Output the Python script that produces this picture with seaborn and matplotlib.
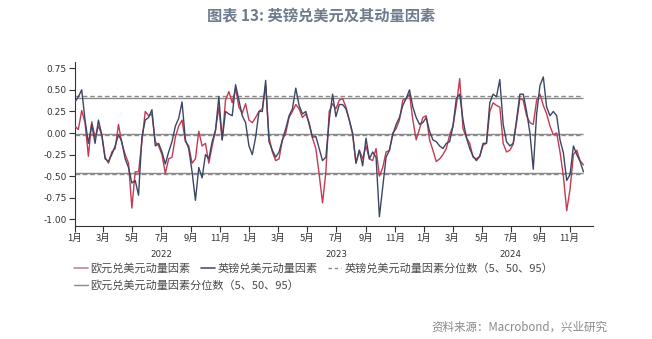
import matplotlib
matplotlib.use("Agg")
import matplotlib.pyplot as plt
import matplotlib.dates as mdates
from matplotlib.lines import Line2D
import numpy as np
import pandas as pd
import seaborn as sns

# ---- data -------------------------------------------------------------
# weekly observations, first week of 2022 through end of November 2024
start_date = "2022-01-01"
n_weeks = 153

# EUR/USD momentum factor
eur_momentum = [
    0.08, 0.04, 0.26, 0.12, -0.27, 0.13, -0.05, 0.08, -0.02, -0.28,
    -0.35, -0.22, -0.18, 0.10, -0.12, -0.25, -0.35, -0.87, -0.45, -0.45,
    -0.10, 0.25, 0.20, 0.22, -0.10, -0.15, -0.25, -0.47, -0.30, -0.28,
    -0.05, 0.08, 0.15, -0.10, -0.15, -0.35, -0.30, 0.02, -0.15, -0.12,
    -0.35, -0.15, 0.03, 0.30, -0.08, 0.38, 0.48, 0.35, 0.52, 0.30,
    0.23, 0.34, 0.15, 0.12, 0.18, 0.25, 0.28, 0.55, -0.05, -0.22,
    -0.32, -0.30, -0.08, 0.00, 0.18, 0.25, 0.33, 0.28, 0.18, 0.22,
    0.12, -0.06, -0.18, -0.48, -0.81, -0.45, 0.25, 0.34, 0.28, 0.38,
    0.40, 0.30, 0.15, -0.02, -0.35, -0.20, -0.30, -0.15, -0.30, -0.32,
    -0.18, -0.50, -0.40, -0.22, -0.20, 0.00, 0.05, 0.15, 0.38, 0.40,
    0.45, 0.15, -0.08, 0.05, 0.18, 0.20, -0.08, -0.20, -0.33, -0.30,
    -0.25, -0.18, -0.02, 0.08, 0.32, 0.63, 0.05, -0.05, -0.12, -0.28,
    -0.30, -0.27, -0.14, -0.12, 0.25, 0.35, 0.32, 0.30, -0.12, -0.22,
    -0.20, -0.13, 0.12, 0.40, 0.38, 0.20, 0.12, 0.10, 0.38, 0.45,
    0.32, 0.22, 0.08, -0.02, 0.00, -0.22, -0.50, -0.90, -0.65, -0.25,
    -0.20, -0.32, -0.37,
]

# GBP/USD momentum factor
gbp_momentum = [
    0.36, 0.42, 0.50, 0.15, -0.12, 0.10, -0.12, 0.15, -0.02, -0.30,
    -0.33, -0.25, -0.15, -0.02, -0.10, -0.30, -0.40, -0.58, -0.55, -0.72,
    -0.05, 0.15, 0.18, 0.27, -0.15, -0.12, -0.22, -0.36, -0.22, -0.10,
    0.08, 0.17, 0.36, -0.08, -0.18, -0.45, -0.78, -0.40, -0.52, -0.25,
    -0.30, -0.10, 0.03, 0.42, -0.08, 0.25, 0.22, 0.20, 0.56, 0.38,
    0.20, 0.12, -0.15, -0.25, -0.05, 0.25, 0.25, 0.61, -0.10, -0.20,
    -0.28, -0.22, -0.08, 0.05, 0.20, 0.28, 0.52, 0.32, 0.22, 0.25,
    0.10, -0.05, -0.04, -0.18, -0.32, -0.28, 0.15, 0.45, 0.19, 0.33,
    0.33, 0.28, 0.15, 0.00, -0.35, -0.20, -0.38, -0.06, -0.30, -0.22,
    -0.28, -0.97, -0.62, -0.28, -0.20, -0.02, 0.10, 0.18, 0.32, 0.40,
    0.50, 0.30, 0.18, 0.10, 0.12, 0.18, 0.02, -0.08, -0.10, -0.15,
    -0.18, -0.12, -0.10, 0.08, 0.40, 0.45, 0.15, -0.05, -0.18, -0.27,
    -0.32, -0.27, -0.12, -0.12, 0.35, 0.45, 0.42, 0.62, 0.10, -0.10,
    -0.15, -0.12, 0.15, 0.45, 0.45, 0.25, 0.00, -0.42, 0.22, 0.55,
    0.65, 0.30, 0.20, 0.25, 0.20, -0.08, -0.23, -0.55, -0.48, -0.15,
    -0.25, -0.33, -0.45,
]

# 5th / 50th / 95th percentiles of each momentum factor
gbp_percentiles = [-0.47, -0.022, 0.43]
eur_percentiles = [-0.462, -0.015, 0.40]

year_labels = [2022, 2023, 2024]
y_ticks = [-1.00, -0.75, -0.50, -0.25, 0.00, 0.25, 0.50, 0.75]

series_names = ["欧元兑美元动量因素", "英镑兑美元动量因素"]
pct_names = ["英镑兑美元动量因素分位数（5、50、95）",
             "欧元兑美元动量因素分位数（5、50、95）"]
title_text = "图表 13: 英镑兑美元及其动量因素"
source_text = "资料来源：Macrobond，兴业研究"

# ---- styling ----------------------------------------------------------
sns.set_theme(style="ticks")
plt.rcParams["font.family"] = ["Noto Sans CJK SC", "DejaVu Sans"]
plt.rcParams["axes.unicode_minus"] = False

RED = "#c33a52"
NAVY = "#3c4763"
GREY = "#8a8a8a"
AXIS = "#333333"

dates = pd.date_range(start_date, periods=n_weeks, freq="7D")
df = pd.DataFrame({
    "date": np.concatenate([dates, dates]),
    "value": eur_momentum + gbp_momentum,
    "series": [series_names[0]] * n_weeks + [series_names[1]] * n_weeks,
})

fig = plt.figure(figsize=(6.52, 3.39), dpi=100)
ax = fig.add_axes([75 / 652, 1 - 226 / 339, (593 - 75) / 652, (226 - 62) / 339])

# percentile reference lines across the data span
ax.hlines(eur_percentiles, dates[0], dates[-1], colors=GREY, linewidth=1.0,
          linestyles="solid", zorder=1)
ax.hlines(gbp_percentiles, dates[0], dates[-1], colors=GREY, linewidth=1.0,
          linestyles=(0, (3.3, 2.0)), zorder=1)

sns.lineplot(data=df, x="date", y="value", hue="series",
             palette={series_names[0]: RED, series_names[1]: NAVY},
             linewidth=1.0, legend=False, ax=ax, zorder=3)

ax.set_xlim(pd.Timestamp("2022-01-01"), pd.Timestamp("2024-12-20"))
ax.set_ylim(-1.078, 0.823)
ax.set_yticks(y_ticks)
ax.set_yticklabels([f"{v:.2f}" for v in y_ticks], family="DejaVu Sans",
                   fontsize=6.5, color=AXIS)

ax.xaxis.set_major_locator(mdates.MonthLocator(bymonth=[1, 3, 5, 7, 9, 11]))
ax.xaxis.set_major_formatter(
    plt.FuncFormatter(lambda x, pos: f"{mdates.num2date(x).month}月"))
for lab in ax.get_xticklabels():
    lab.set_fontsize(6.8)
    lab.set_color(AXIS)
ax.tick_params(axis="both", direction="out", length=4, width=0.8,
               colors=AXIS, pad=2)
ax.tick_params(axis="x", labelsize=6.8)
ax.set_xlabel("")
ax.set_ylabel("")

sns.despine(ax=ax)
for side in ("left", "bottom"):
    ax.spines[side].set_color(AXIS)
    ax.spines[side].set_linewidth(0.8)

# year captions under the month ticks
xt = ax.get_xaxis_transform()
for yr in year_labels:
    ax.text(pd.Timestamp(f"{yr}-07-01"), -0.175, str(yr), transform=xt,
            ha="center", va="center", fontsize=6.2, color=AXIS,
            family="DejaVu Sans")

# legend: three entries on the first row, one on the second
row1 = [
    Line2D([], [], color="#c98591", linewidth=1.2),
    Line2D([], [], color="#4e5870", linewidth=1.2),
    Line2D([], [], color=GREY, linewidth=1.0, linestyle=(0, (2.5, 2.0))),
]
row2 = [Line2D([], [], color=GREY, linewidth=1.0)]
leg_kw = dict(frameon=False, fontsize=8, handlelength=1.25, handletextpad=0.25,
              columnspacing=0.9, borderpad=0, borderaxespad=0,
              labelcolor="#4a4a4a", loc="center left")
leg1 = fig.legend(row1, [series_names[0], series_names[1], pct_names[0]],
                  ncol=3, bbox_to_anchor=(74 / 652, 1 - 268.5 / 339), **leg_kw)
leg2 = fig.legend(row2, [pct_names[1]], ncol=1,
                  bbox_to_anchor=(74 / 652, 1 - 285.5 / 339), **leg_kw)

fig.text(321 / 652, 1 - 16 / 339, title_text, ha="center", va="center",
         fontsize=11, fontweight="bold", color="#6e7b8f")
fig.text(607 / 652, 1 - 327 / 339, source_text, ha="right", va="center",
         fontsize=8.3, color="#8a8a8a")

fig.savefig("out.png", dpi=100, facecolor="white")
